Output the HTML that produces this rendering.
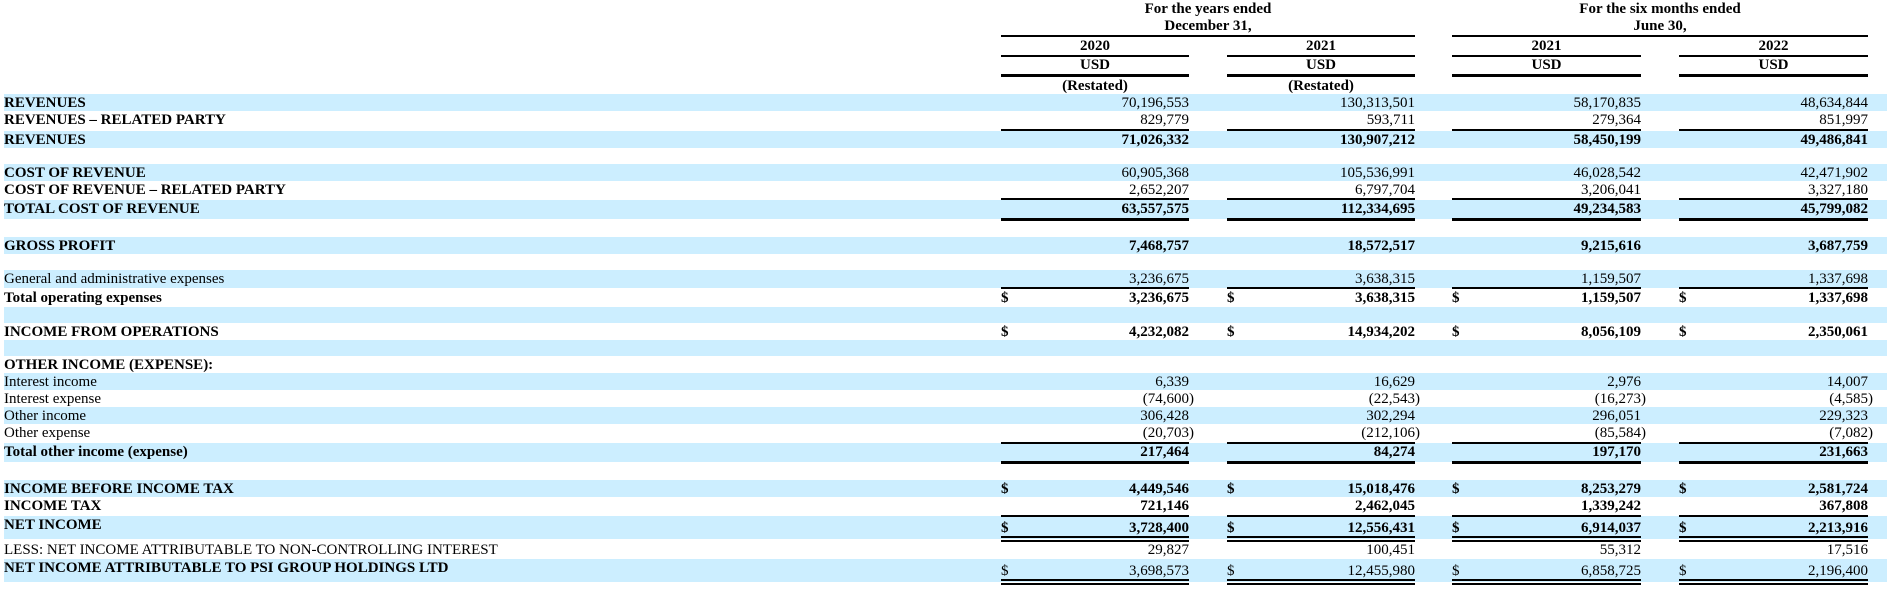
<!DOCTYPE html>
<html><head><meta charset="utf-8">
<style>
*{margin:0;padding:0;box-sizing:border-box}
body{width:1887px;height:594px;background:#fff;position:relative;overflow:hidden;font-family:"Liberation Serif","Times New Roman",serif;font-size:15px;color:#000}
.h{position:absolute;text-align:center;font-weight:bold;line-height:18px;white-space:nowrap}
.r{position:absolute;left:4px;width:1883px;line-height:18px;white-space:nowrap}
.b{background:#cceeff}
.l{position:absolute;left:0;top:0}
.c{position:absolute;top:0;width:188px;text-align:right}
.d{position:absolute;top:0}
.k{font-weight:bold}
.n{margin-right:-5px}
.ln{position:absolute;background:#000}
</style></head><body>

<!-- headers -->
<div class="h" style="left:1001px;width:414px;top:0">For the years ended</div>
<div class="h" style="left:1001px;width:414px;top:17px">December 31,</div>
<div class="h" style="left:1452px;width:416px;top:0">For the six months ended</div>
<div class="h" style="left:1452px;width:416px;top:17px">June 30,</div>
<div class="h" style="left:1001px;width:188px;top:37px">2020</div>
<div class="h" style="left:1227px;width:188px;top:37px">2021</div>
<div class="h" style="left:1452px;width:189px;top:37px">2021</div>
<div class="h" style="left:1679px;width:189px;top:37px">2022</div>
<div class="h" style="left:1001px;width:188px;top:56px">USD</div>
<div class="h" style="left:1227px;width:188px;top:56px">USD</div>
<div class="h" style="left:1452px;width:189px;top:56px">USD</div>
<div class="h" style="left:1679px;width:189px;top:56px">USD</div>
<div class="h" style="left:1001px;width:188px;top:77px">(Restated)</div>
<div class="h" style="left:1227px;width:188px;top:77px">(Restated)</div>

<!-- rows -->
<div class="r b" style="top:94px;height:17px"><span class="l k">REVENUES</span>
<span class="c" style="left:997px">70,196,553</span><span class="c" style="left:1223px">130,313,501</span><span class="c" style="left:1449px">58,170,835</span><span class="c" style="left:1676px">48,634,844</span></div>
<div class="r" style="top:111px;height:19px"><span class="l k">REVENUES – RELATED PARTY</span>
<span class="c" style="left:997px">829,779</span><span class="c" style="left:1223px">593,711</span><span class="c" style="left:1449px">279,364</span><span class="c" style="left:1676px">851,997</span></div>
<div class="r b k" style="top:131px;height:17px"><span class="l">REVENUES</span>
<span class="c" style="left:997px">71,026,332</span><span class="c" style="left:1223px">130,907,212</span><span class="c" style="left:1449px">58,450,199</span><span class="c" style="left:1676px">49,486,841</span></div>

<div class="r b" style="top:164px;height:17px"><span class="l k">COST OF REVENUE</span>
<span class="c" style="left:997px">60,905,368</span><span class="c" style="left:1223px">105,536,991</span><span class="c" style="left:1449px">46,028,542</span><span class="c" style="left:1676px">42,471,902</span></div>
<div class="r" style="top:181px;height:18px"><span class="l k">COST OF REVENUE – RELATED PARTY</span>
<span class="c" style="left:997px">2,652,207</span><span class="c" style="left:1223px">6,797,704</span><span class="c" style="left:1449px">3,206,041</span><span class="c" style="left:1676px">3,327,180</span></div>
<div class="r b k" style="top:200px;height:19px"><span class="l">TOTAL COST OF REVENUE</span>
<span class="c" style="left:997px">63,557,575</span><span class="c" style="left:1223px">112,334,695</span><span class="c" style="left:1449px">49,234,583</span><span class="c" style="left:1676px">45,799,082</span></div>

<div class="r b k" style="top:237px;height:17px"><span class="l">GROSS PROFIT</span>
<span class="c" style="left:997px">7,468,757</span><span class="c" style="left:1223px">18,572,517</span><span class="c" style="left:1449px">9,215,616</span><span class="c" style="left:1676px">3,687,759</span></div>

<div class="r b" style="top:270px;height:18px"><span class="l">General and administrative expenses</span>
<span class="c" style="left:997px">3,236,675</span><span class="c" style="left:1223px">3,638,315</span><span class="c" style="left:1449px">1,159,507</span><span class="c" style="left:1676px">1,337,698</span></div>
<div class="r k" style="top:289px;height:18px"><span class="l">Total operating expenses</span>
<span class="d" style="left:997px">$</span><span class="d" style="left:1223px">$</span><span class="d" style="left:1448px">$</span><span class="d" style="left:1675px">$</span>
<span class="c" style="left:997px">3,236,675</span><span class="c" style="left:1223px">3,638,315</span><span class="c" style="left:1449px">1,159,507</span><span class="c" style="left:1676px">1,337,698</span></div>
<div class="r b" style="top:307px;height:16px"></div>
<div class="r k" style="top:323px;height:17px"><span class="l">INCOME FROM OPERATIONS</span>
<span class="d" style="left:997px">$</span><span class="d" style="left:1223px">$</span><span class="d" style="left:1448px">$</span><span class="d" style="left:1675px">$</span>
<span class="c" style="left:997px">4,232,082</span><span class="c" style="left:1223px">14,934,202</span><span class="c" style="left:1449px">8,056,109</span><span class="c" style="left:1676px">2,350,061</span></div>
<div class="r b" style="top:340px;height:16px"></div>
<div class="r k" style="top:356px;height:17px"><span class="l">OTHER INCOME (EXPENSE):</span></div>
<div class="r b" style="top:373px;height:17px"><span class="l">Interest income</span>
<span class="c" style="left:997px">6,339</span><span class="c" style="left:1223px">16,629</span><span class="c" style="left:1449px">2,976</span><span class="c" style="left:1676px">14,007</span></div>
<div class="r" style="top:390px;height:17px"><span class="l">Interest expense</span>
<span class="c" style="left:997px"><span class="n">(74,600)</span></span><span class="c" style="left:1223px"><span class="n">(22,543)</span></span><span class="c" style="left:1449px"><span class="n">(16,273)</span></span><span class="c" style="left:1676px"><span class="n">(4,585)</span></span></div>
<div class="r b" style="top:407px;height:17px"><span class="l">Other income</span>
<span class="c" style="left:997px">306,428</span><span class="c" style="left:1223px">302,294</span><span class="c" style="left:1449px">296,051</span><span class="c" style="left:1676px">229,323</span></div>
<div class="r" style="top:424px;height:18px"><span class="l">Other expense</span>
<span class="c" style="left:997px"><span class="n">(20,703)</span></span><span class="c" style="left:1223px"><span class="n">(212,106)</span></span><span class="c" style="left:1449px"><span class="n">(85,584)</span></span><span class="c" style="left:1676px"><span class="n">(7,082)</span></span></div>
<div class="r b k" style="top:443px;height:19px"><span class="l">Total other income (expense)</span>
<span class="c" style="left:997px">217,464</span><span class="c" style="left:1223px">84,274</span><span class="c" style="left:1449px">197,170</span><span class="c" style="left:1676px">231,663</span></div>

<div class="r b k" style="top:480px;height:17px"><span class="l">INCOME BEFORE INCOME TAX</span>
<span class="d" style="left:997px">$</span><span class="d" style="left:1223px">$</span><span class="d" style="left:1448px">$</span><span class="d" style="left:1675px">$</span>
<span class="c" style="left:997px">4,449,546</span><span class="c" style="left:1223px">15,018,476</span><span class="c" style="left:1449px">8,253,279</span><span class="c" style="left:1676px">2,581,724</span></div>
<div class="r k" style="top:497px;height:19px"><span class="l">INCOME TAX</span>
<span class="c" style="left:997px">721,146</span><span class="c" style="left:1223px">2,462,045</span><span class="c" style="left:1449px">1,339,242</span><span class="c" style="left:1676px">367,808</span></div>
<div class="r b k" style="top:516px;height:23px"><span class="l">NET INCOME</span>
<span class="d" style="left:997px;top:3px">$</span><span class="d" style="left:1223px;top:3px">$</span><span class="d" style="left:1448px;top:3px">$</span><span class="d" style="left:1675px;top:3px">$</span>
<span class="c" style="left:997px;top:3px">3,728,400</span><span class="c" style="left:1223px;top:3px">12,556,431</span><span class="c" style="left:1449px;top:3px">6,914,037</span><span class="c" style="left:1676px;top:3px">2,213,916</span></div>
<div class="r" style="top:541px;height:18px"><span class="l">LESS: NET INCOME ATTRIBUTABLE TO NON-CONTROLLING INTEREST</span>
<span class="c" style="left:997px">29,827</span><span class="c" style="left:1223px">100,451</span><span class="c" style="left:1449px">55,312</span><span class="c" style="left:1676px">17,516</span></div>
<div class="r b" style="top:559px;height:23px"><span class="l k">NET INCOME ATTRIBUTABLE TO PSI GROUP HOLDINGS LTD</span>
<span class="d" style="left:997px;top:3px">$</span><span class="d" style="left:1223px;top:3px">$</span><span class="d" style="left:1448px;top:3px">$</span><span class="d" style="left:1675px;top:3px">$</span>
<span class="c" style="left:997px;top:3px">3,698,573</span><span class="c" style="left:1223px;top:3px">12,455,980</span><span class="c" style="left:1449px;top:3px">6,858,725</span><span class="c" style="left:1676px;top:3px">2,196,400</span></div>

<!-- lines -->
<div class="ln" style="left:1001px;width:414px;top:35px;height:2px"></div>
<div class="ln" style="left:1452px;width:416px;top:35px;height:2px"></div>
<div id="L"></div>
<script>
var cols=[[1001,188],[1227,188],[1452,189],[1679,189]];
var ys=[[55,2],[74,3],[129,2],[198,2],[218,3],[287,2],[442,2],[461,3],[515,2],[536,2],[540,2],[579,2],[583,2]];
var h='';
ys.forEach(function(y){cols.forEach(function(c){h+='<div class="ln" style="left:'+c[0]+'px;width:'+c[1]+'px;top:'+y[0]+'px;height:'+y[1]+'px"></div>';});});
document.getElementById('L').innerHTML=h;
</script>
</body></html>
